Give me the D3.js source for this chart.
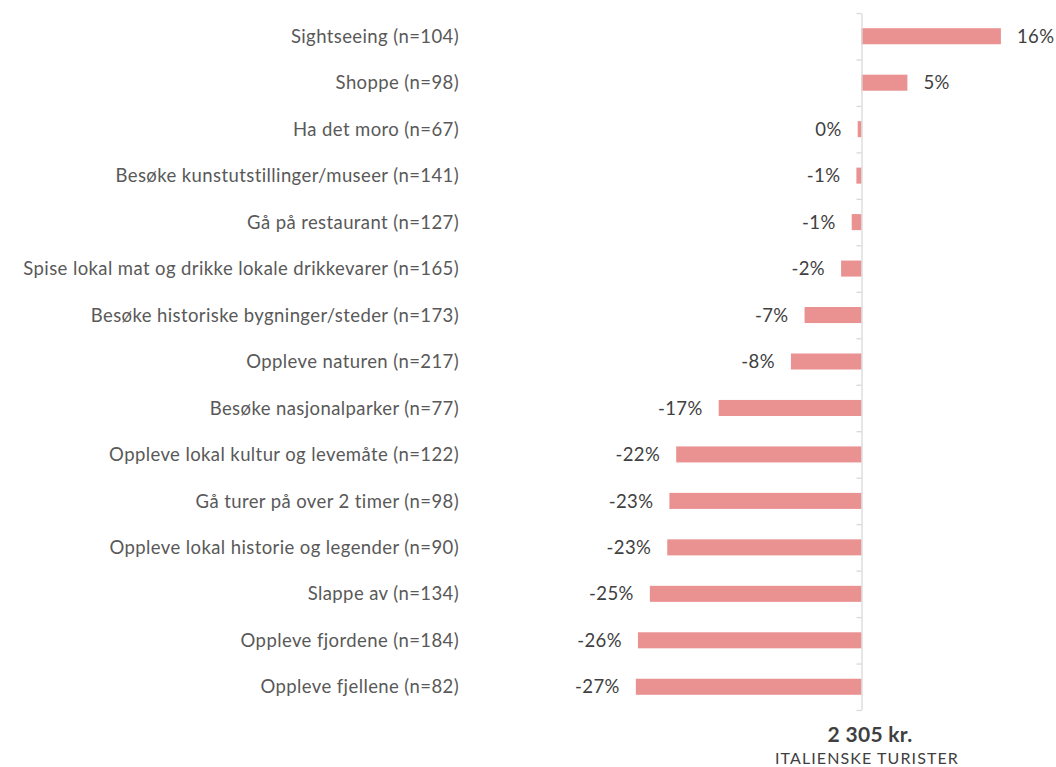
<html>
<head>
<meta charset="utf-8">
<script src="https://cdn.jsdelivr.net/npm/d3@7"></script>
<style>
  body { margin: 0; background: #fff; }
  text { font-family: Lato, "Open Sans", sans-serif; }
</style>
</head>
<body>
<div id="chartContainer"></div>
<script>
  // activities (top to bottom) and their deviation from the average spend
  var categories = [
    "Sightseeing (n=104)",
    "Shoppe (n=98)",
    "Ha det moro (n=67)",
    "Besøke kunstutstillinger/museer (n=141)",
    "Gå på restaurant (n=127)",
    "Spise lokal mat og drikke lokale drikkevarer (n=165)",
    "Besøke historiske bygninger/steder (n=173)",
    "Oppleve naturen (n=217)",
    "Besøke nasjonalparker (n=77)",
    "Oppleve lokal kultur og levemåte (n=122)",
    "Gå turer på over 2 timer (n=98)",
    "Oppleve lokal historie og legender (n=90)",
    "Slappe av (n=134)",
    "Oppleve fjordene (n=184)",
    "Oppleve fjellene (n=82)"
  ];
  var values = [16.4, 5.4, -0.45, -0.6, -1.15, -2.4, -6.7, -8.3, -16.8, -21.8, -22.6, -22.85, -24.9, -26.3, -26.55];
  var totalLabel = "2 305 kr.";
  var groupLabel = "ITALIENSKE TURISTER";

  var svg = d3.select("#chartContainer").append("svg")
    .attr("width", 1056)
    .attr("height", 767);

  var zeroX = 861.5;
  var x = d3.scaleLinear().domain([-30, 20]).range([zeroX - 255, zeroX + 170]);
  var y = d3.scaleBand().domain(categories).range([13, 710])
    .paddingInner(0.655).paddingOuter(0.3275);

  //bars
  svg.selectAll("rect.bar")
    .data(values)
    .enter()
    .append("rect")
      .attr("class", "bar")
      .attr("x", function (d) { return x(Math.min(0, d)); })
      .attr("y", function (d, i) { return y(categories[i]); })
      .attr("width", function (d) { return Math.abs(x(d) - x(0)); })
      .attr("height", y.bandwidth())
      .style("fill", "#ea9191");

  //axis line with ticks between the categories
  var edges = d3.scaleLinear().domain([0, categories.length]).range([13, 710]);
  var axis = svg.append("g")
    .attr("transform", "translate(" + x(0) + ",0)")
    .call(d3.axisLeft(edges).tickValues(d3.range(categories.length + 1)).tickSize(5).tickSizeOuter(0).tickFormat(""));
  axis.selectAll("line,path").style("stroke", "#d9d9d9").style("stroke-width", 1.3);

  //category labels
  svg.selectAll("text.cat")
    .data(categories)
    .enter()
    .append("text")
      .attr("class", "cat")
      .attr("x", 459)
      .attr("y", function (d) { return y(d) + y.bandwidth() / 2; })
      .attr("dy", "0.36em")
      .style("text-anchor", "end")
      .style("font-size", "18.5px")
      .style("letter-spacing", "0.4px")
      .style("fill", "#595959")
      .text(function (d) { return d; });

  //value labels
  svg.selectAll("text.val")
    .data(values)
    .enter()
    .append("text")
      .attr("class", "val")
      .attr("x", function (d) { return d > 0 ? x(d) + 16 : x(Math.min(d, 0)) - 16; })
      .attr("y", function (d, i) { return y(categories[i]) + y.bandwidth() / 2; })
      .attr("dy", "0.36em")
      .style("text-anchor", function (d) { return d > 0 ? "start" : "end"; })
      .style("font-size", "18.5px")
      .style("letter-spacing", "0.4px")
      .style("fill", "#404040")
      .text(function (d) {
        var r = Math.round(d);
        return (r === 0 ? "0" : r) + "%";
      });

  //footer
  svg.append("text")
    .attr("x", 870)
    .attr("y", 742)
    .style("text-anchor", "middle")
    .style("font-size", "21px")
    .style("letter-spacing", "0.3px")
    .style("font-weight", "bold")
    .style("fill", "#404040")
    .text(totalLabel);
  svg.append("text")
    .attr("x", 867)
    .attr("y", 764)
    .style("text-anchor", "middle")
    .style("font-size", "16px")
    .style("letter-spacing", "1.1px")
    .style("fill", "#404040")
    .text(groupLabel);
</script>
</body>
</html>
